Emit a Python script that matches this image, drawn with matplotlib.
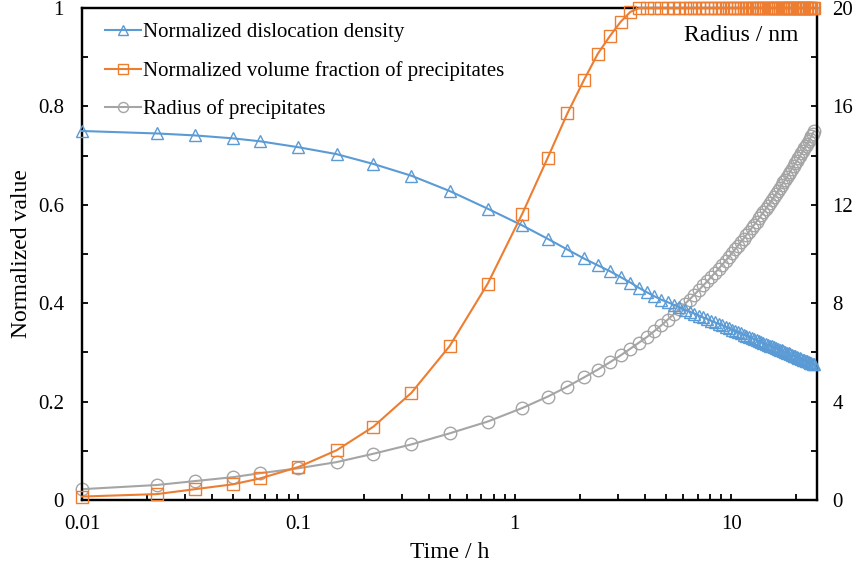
import matplotlib
matplotlib.use("Agg")
import matplotlib.pyplot as plt
from matplotlib.ticker import MultipleLocator, FixedLocator, NullFormatter

plt.rcParams['font.family'] = ['Liberation Serif', 'DejaVu Serif']

# Time / h
time_h = [0.01, 0.0222, 0.0333, 0.05, 0.0667, 0.1, 0.15, 0.222, 0.333, 0.5, 0.75,
          1.083, 1.417, 1.75, 2.083, 2.417, 2.75, 3.083, 3.417, 3.75, 4.083,
          4.417, 4.75, 5.083, 5.417, 5.75, 6.083, 6.417, 6.75, 7.083, 7.417,
          7.75, 8.083, 8.417, 8.75, 9.083, 9.417, 9.75, 10.083, 10.417, 10.75,
          11.083, 11.417, 11.75, 12.083, 12.417, 12.75, 13.083, 13.417, 13.75, 14.083,
          14.417, 14.75, 15.083, 15.417, 15.75, 16.083, 16.417, 16.75, 17.083, 17.417,
          17.75, 18.083, 18.417, 18.75, 19.083, 19.417, 19.75, 20.083, 20.417, 20.75,
          21.083, 21.417, 21.75, 22.083, 22.417, 22.75, 23.083, 23.417, 23.75, 24.083]

# Normalized dislocation density
dislocation = [0.750, 0.745, 0.741, 0.735, 0.729, 0.717, 0.703, 0.683, 0.659, 0.628, 0.592,
               0.558, 0.531, 0.509, 0.491, 0.477, 0.465, 0.453, 0.442, 0.431, 0.422,
               0.414, 0.407, 0.402, 0.397, 0.392, 0.387, 0.383, 0.379, 0.375, 0.371,
               0.368, 0.364, 0.361, 0.358, 0.355, 0.352, 0.349, 0.346, 0.344, 0.341,
               0.339, 0.336, 0.334, 0.332, 0.330, 0.327, 0.325, 0.323, 0.321, 0.319,
               0.317, 0.316, 0.314, 0.312, 0.310, 0.309, 0.307, 0.305, 0.304, 0.302,
               0.301, 0.299, 0.298, 0.296, 0.295, 0.293, 0.292, 0.291, 0.289, 0.288,
               0.287, 0.285, 0.284, 0.283, 0.282, 0.281, 0.279, 0.278, 0.277, 0.276]

# Normalized volume fraction of precipitates
volume_fraction = [0.007, 0.012, 0.022, 0.032, 0.044, 0.067, 0.101, 0.149, 0.218, 0.313, 0.440,
                   0.582, 0.695, 0.786, 0.853, 0.907, 0.943, 0.972, 0.992, 1.0, 1.0,
                   1.0, 1.0, 1.0, 1.0, 1.0, 1.0, 1.0, 1.0, 1.0, 1.0,
                   1.0, 1.0, 1.0, 1.0, 1.0, 1.0, 1.0, 1.0, 1.0, 1.0,
                   1.0, 1.0, 1.0, 1.0, 1.0, 1.0, 1.0, 1.0, 1.0, 1.0,
                   1.0, 1.0, 1.0, 1.0, 1.0, 1.0, 1.0, 1.0, 1.0, 1.0,
                   1.0, 1.0, 1.0, 1.0, 1.0, 1.0, 1.0, 1.0, 1.0, 1.0,
                   1.0, 1.0, 1.0, 1.0, 1.0, 1.0, 1.0, 1.0, 1.0, 1.0]

# Radius of precipitates / nm
radius_nm = [0.44, 0.61, 0.77, 0.93, 1.09, 1.29, 1.54, 1.88, 2.26, 2.71, 3.19,
             3.74, 4.20, 4.61, 4.98, 5.30, 5.60, 5.88, 6.15, 6.40, 6.63,
             6.87, 7.10, 7.33, 7.55, 7.75, 7.96, 8.15, 8.35, 8.53, 8.72,
             8.89, 9.07, 9.24, 9.40, 9.57, 9.73, 9.88, 10.04, 10.19, 10.34,
             10.49, 10.63, 10.77, 10.91, 11.05, 11.18, 11.32, 11.45, 11.58, 11.71,
             11.83, 11.96, 12.08, 12.20, 12.33, 12.44, 12.56, 12.68, 12.79, 12.91,
             13.02, 13.13, 13.24, 13.35, 13.46, 13.57, 13.68, 13.78, 13.89, 13.99,
             14.09, 14.19, 14.30, 14.39, 14.49, 14.60, 14.69, 14.79, 14.89, 14.98]

labels = ["Normalized dislocation density",
          "Normalized volume fraction of precipitates",
          "Radius of precipitates"]
colors = ["#5B9BD5", "#ED7D31", "#A5A5A5"]

fig = plt.figure(figsize=(8.56, 5.70), dpi=100)
ax = fig.add_axes([82 / 856, 1 - 500 / 570, (817 - 82) / 856, (500 - 8) / 570])
ax2 = ax.twinx()

ms = 9
l1, = ax.plot(time_h, dislocation, color=colors[0], lw=1.5, marker='^', ms=ms,
              mfc='none', mec=colors[0], mew=1.0, clip_on=False, zorder=3)
l2, = ax.plot(time_h, volume_fraction, color=colors[1], lw=1.5, marker='s', ms=ms,
              mfc='none', mec=colors[1], mew=1.0, clip_on=False, zorder=3)
l3, = ax2.plot(time_h, radius_nm, color=colors[2], lw=1.5, marker='o', ms=ms,
               mfc='none', mec=colors[2], mew=1.0, clip_on=False, zorder=3)

ax.set_xscale('log')
ax.set_xlim(0.01, 24.9)
ax.set_ylim(0, 1)
ax2.set_ylim(0, 20)

ax.xaxis.set_major_locator(FixedLocator([0.01, 0.1, 1, 10]))
ax.set_xticklabels(["0.01", "0.1", "1", "10"])
ax.xaxis.set_minor_formatter(NullFormatter())
ax.set_yticks([0, 0.2, 0.4, 0.6, 0.8, 1.0])
ax.set_yticklabels(["0", "0.2", "0.4", "0.6", "0.8", "1"])
ax.yaxis.set_minor_locator(MultipleLocator(0.1))
ax2.yaxis.set_major_locator(MultipleLocator(4))
ax2.yaxis.set_minor_locator(MultipleLocator(2))

for a in (ax, ax2):
    a.tick_params(which='both', direction='in', labelsize=15, width=1.3)
    a.tick_params(which='major', length=4)
    a.tick_params(which='minor', length=4)
    for s in a.spines.values():
        s.set_linewidth(1.6)
ax.tick_params(axis='y', which='both', right=False, pad=13)
ax.tick_params(axis='x', which='both', top=False, pad=10.5)
ax2.tick_params(axis='y', pad=11)

ax.set_xlabel("Time / h", fontsize=17, labelpad=6)
ax.set_ylabel("Normalized value", fontsize=17, labelpad=4)
ax2.text(0.975, 0.965, "Radius / nm", transform=ax2.transAxes, ha='right', va='top',
         fontsize=17)

leg = ax.legend([l1, l2, l3], labels, loc='upper left', bbox_to_anchor=(0.012, 1.0),
                frameon=False, fontsize=15, handlelength=1.7, handletextpad=0.1,
                labelspacing=0.9, markerscale=0.8, borderaxespad=0.3)
ax.set_zorder(ax2.get_zorder() + 1)
ax.patch.set_visible(False)

fig.savefig("out.png", dpi=100)
